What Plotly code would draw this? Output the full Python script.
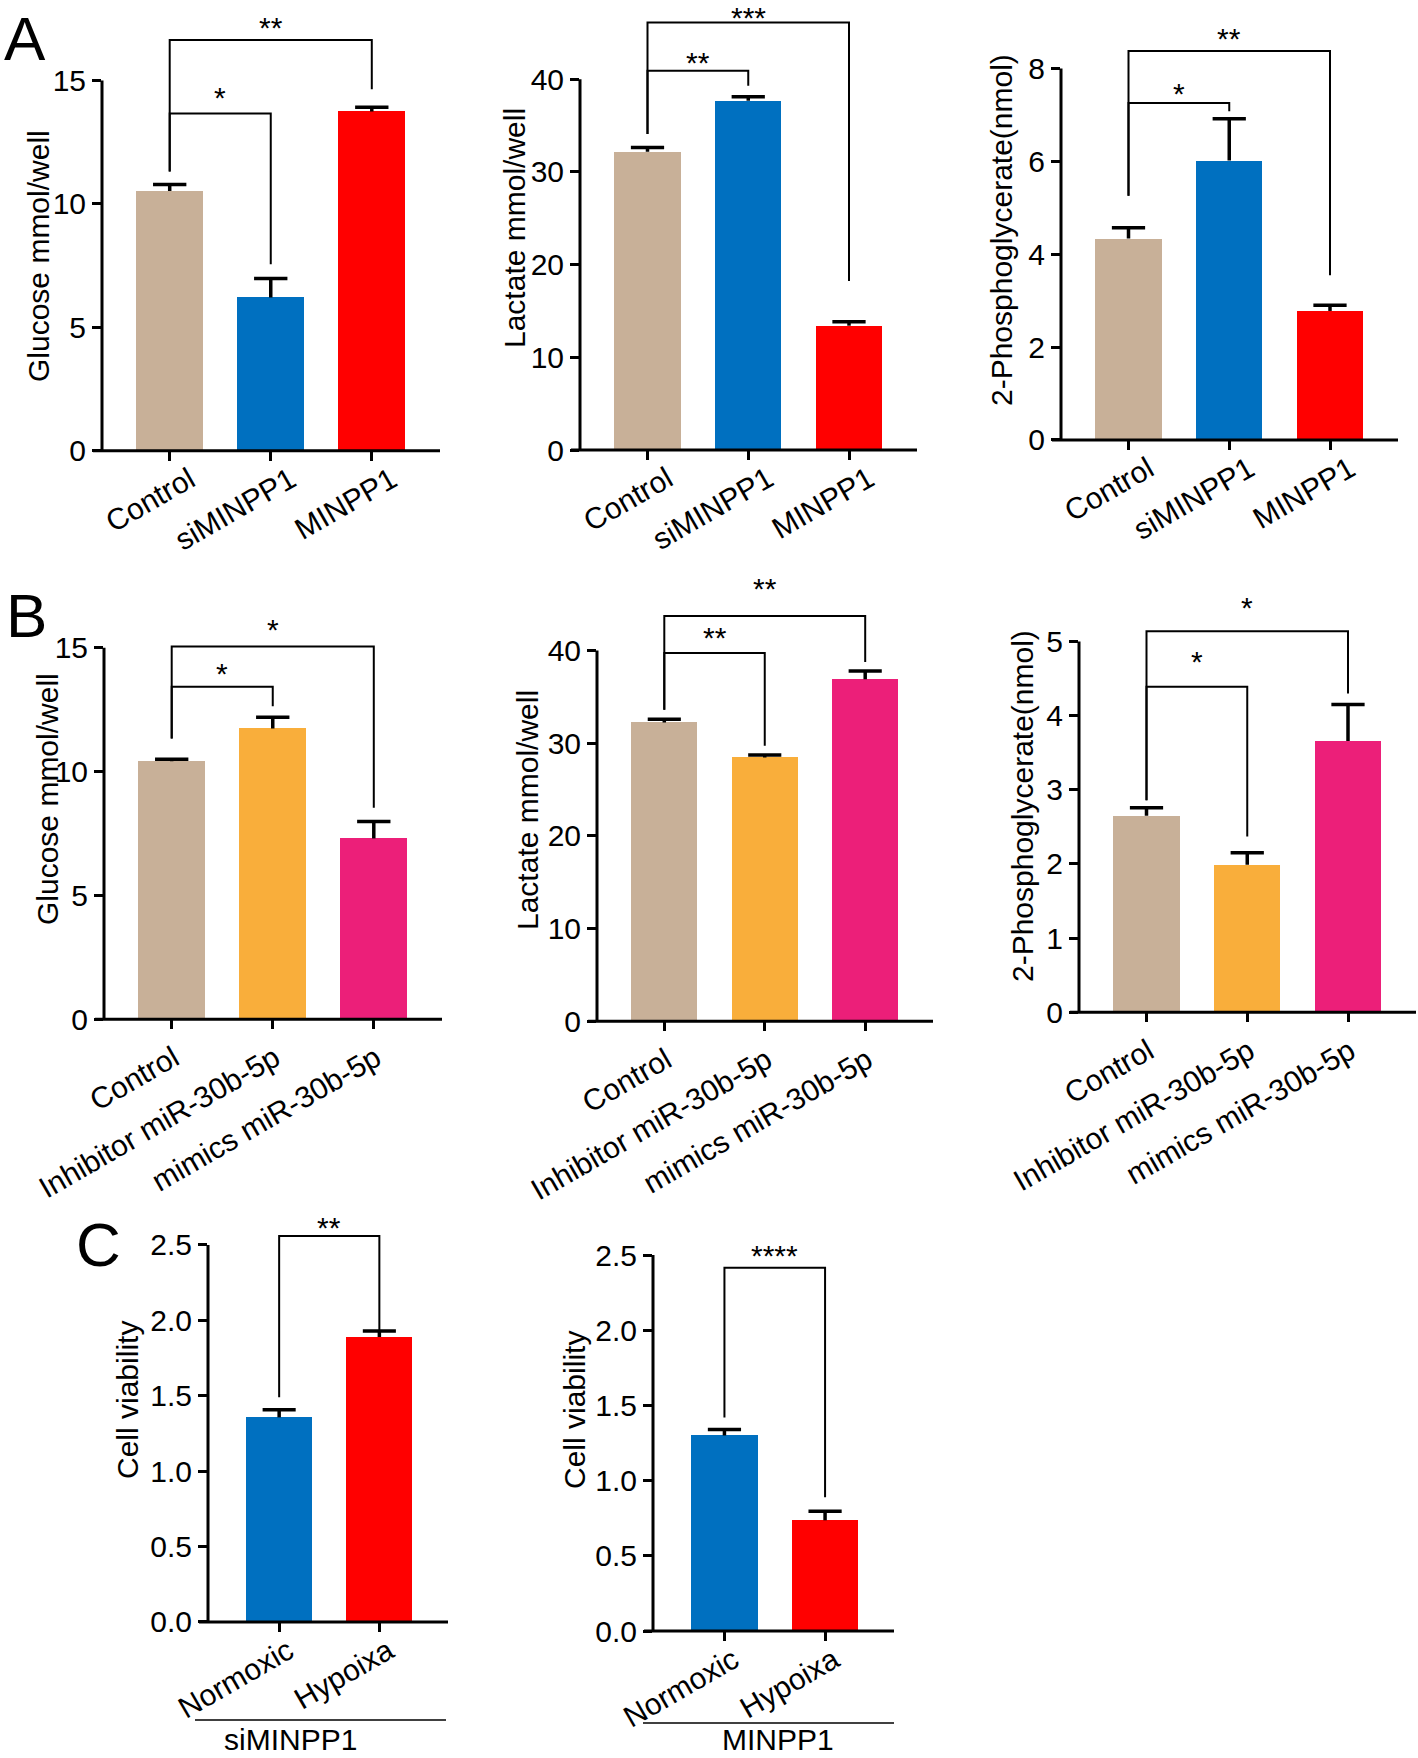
import plotly.graph_objects as go

W, H = 1418, 1758
FONT = "Liberation Sans, Arial, Helvetica, sans-serif"

TAN = "#C8B098"
BLUE = "#0070C0"
RED = "#FF0000"
ORANGE = "#F9AE3B"
PINK = "#EC1F79"

# ---------------- data ----------------
groups_A = ["Control", "siMINPP1", "MINPP1"]
groups_B = ["Control", "Inhibitor miR-30b-5p", "mimics miR-30b-5p"]
groups_C = ["Normoxic", "Hypoixa"]

glucose_A = [10.52, 6.21, 13.74]
glucose_A_err = [0.26, 0.77, 0.17]
lactate_A = [32.18, 37.69, 13.41]
lactate_A_err = [0.46, 0.42, 0.42]
pg_A = [4.34, 6.02, 2.78]
pg_A_err = [0.23, 0.90, 0.12]

glucose_B = [10.42, 11.74, 7.30]
glucose_B_err = [0.08, 0.46, 0.68]
lactate_B = [32.25, 28.46, 36.92]
lactate_B_err = [0.35, 0.26, 0.88]
pg_B = [2.65, 1.99, 3.66]
pg_B_err = [0.11, 0.16, 0.49]

viability_C1 = [1.357, 1.89]
viability_C1_err = [0.05, 0.04]
viability_C2 = [1.30, 0.736]
viability_C2_err = [0.04, 0.06]

# significance brackets: (i, j, bracket y, left end y, right end y, label, label y)
sig_glucose_A = [(0, 2, 16.64, 11.31, 14.64, "**", 17.32), (0, 1, 13.66, 11.31, 7.55, "*", 14.47)]
sig_lactate_A = [(0, 2, 46.13, 34.10, 18.23, "***", 47.1), (0, 1, 40.92, 34.10, 39.31, "**", 42.2)]
sig_pg_A = [(0, 2, 8.38, 5.26, 3.55, "**", 8.73), (0, 1, 7.26, 5.26, 7.08, "*", 7.55)]
sig_glucose_B = [(0, 2, 15.05, 11.34, 8.54, "*", 15.91), (0, 1, 13.43, 11.34, 12.64, "*", 14.13)]
sig_lactate_B = [(0, 2, 43.74, 33.61, 38.77, "**", 47.14), (0, 1, 39.74, 33.61, 29.74, "**", 41.85)]
sig_pg_B = [(0, 2, 5.14, 2.86, 4.30, "*", 5.51), (0, 1, 4.39, 2.86, 2.37, "*", 4.78)]
sig_C1 = [(0, 1, 2.56, 1.49, 1.935, "**", 2.64)]
sig_C2 = [(0, 1, 2.416, 1.42, 0.89, "****", 2.52)]

ticks_gluc = [0, 5, 10, 15]
ticks_lac = [0, 10, 20, 30, 40]
ticks_pgA = [0, 2, 4, 6, 8]
ticks_pgB = [0, 1, 2, 3, 4, 5]
ticks_via = [0, 0.5, 1.0, 1.5, 2.0, 2.5]

colors_A = [TAN, BLUE, RED]
colors_B = [TAN, ORANGE, PINK]
colors_C = [BLUE, RED]

fig = go.Figure()
annotations = []
shapes = []
layout_axes = {}

CAP = 0.165


def add_panel(idx, cats, vals, errs, colors, sig, geom, tickvals,
              title, title_xy, lab_shift=(0, 0), tickfmt=None):
    xa = "x" if idx == 1 else f"x{idx}"
    ya = "y" if idx == 1 else f"y{idx}"
    L, R, Y0, Ytk, a, b = geom
    tmax = tickvals[-1]
    n = len(cats)
    s = (Y0 - Ytk) / tmax
    # range top: room for brackets and star labels, but stay inside the page
    ytop = min(max([t[6] for t in sig] + [tmax]) + 22.0 / s, (Y0 - 1) / s)
    top_px = Y0 - ytop * s
    xdom = [L / W, R / W]
    ydom = [1 - Y0 / H, min(1.0, 1 - top_px / H)]
    xs = list(range(n))

    fig.add_trace(go.Bar(x=xs, y=vals, width=0.66,
                         marker=dict(color=colors, line=dict(width=0)),
                         xaxis=xa, yaxis=ya, showlegend=False, hoverinfo="skip"))
    ex, ey = [], []
    for i, (v, e) in enumerate(zip(vals, errs)):
        ex += [i, i, None, i - CAP, i + CAP, None]
        ey += [v, v + e, None, v + e, v + e, None]
    fig.add_trace(go.Scatter(x=ex, y=ey, mode="lines",
                             line=dict(color="black", width=3.5),
                             xaxis=xa, yaxis=ya, showlegend=False, hoverinfo="skip"))
    bx, by = [], []
    for (i, j, yb, yl, yr, lab, ys) in sig:
        bx += [i, i, j, j, None]
        by += [yl, yb, yb, yr, None]
        annotations.append(dict(x=(i + j) / 2, y=ys, xref=xa, yref=ya, text=lab,
                                showarrow=False, yshift=-4,
                                font=dict(family=FONT, size=30, color="black")))
    fig.add_trace(go.Scatter(x=bx, y=by, mode="lines",
                             line=dict(color="black", width=2),
                             xaxis=xa, yaxis=ya, showlegend=False, hoverinfo="skip"))

    xkey = "xaxis" if idx == 1 else f"xaxis{idx}"
    ykey = "yaxis" if idx == 1 else f"yaxis{idx}"
    layout_axes[xkey] = dict(domain=xdom, anchor=ya, range=[-a, n - 1 + b],
                             tickvals=xs, ticktext=cats, tickangle=-30,
                             ticks="outside", ticklen=9, tickwidth=3, tickcolor="black",
                             ticklabelshift=lab_shift[0], ticklabelstandoff=lab_shift[1],
                             showline=False, showgrid=False, zeroline=False,
                             automargin=False,
                             tickfont=dict(family=FONT, size=30, color="black"))
    ykw = dict(domain=ydom, anchor=xa, range=[0, ytop], tickvals=tickvals,
               ticks="outside", ticklen=9, tickwidth=3, tickcolor="black",
               showline=False, showgrid=False, zeroline=False, automargin=False,
               tickfont=dict(family=FONT, size=30, color="black"))
    if tickfmt:
        ykw["tickformat"] = tickfmt
    layout_axes[ykey] = ykw

    # spines
    shapes.append(dict(type="line", xref="paper", yref="paper",
                       x0=L / W, x1=L / W, y0=1 - Y0 / H, y1=1 - Ytk / H,
                       line=dict(color="black", width=3)))
    shapes.append(dict(type="line", xref="paper", yref="paper",
                       x0=(L - 9) / W, x1=R / W, y0=1 - Y0 / H, y1=1 - Y0 / H,
                       line=dict(color="black", width=3)))
    annotations.append(dict(x=title_xy[0] / W, y=1 - title_xy[1] / H, xref="paper", yref="paper",
                            text=title, showarrow=False, textangle=-90,
                            xanchor="center", yanchor="middle",
                            font=dict(family=FONT, size=30, color="black")))


add_panel(1, groups_A, glucose_A, glucose_A_err, colors_A, sig_glucose_A,
          (102, 440, 450.7, 80.4, 0.67, 0.675), ticks_gluc,
          "Glucose mmol/well", (38, 256), lab_shift=(20, -10))
add_panel(2, groups_A, lactate_A, lactate_A_err, colors_A, sig_lactate_A,
          (580, 917, 450.0, 79.3, 0.67, 0.675), ticks_lac,
          "Lactate mmol/well", (515, 228), lab_shift=(20, -10))
add_panel(3, groups_A, pg_A, pg_A_err, colors_A, sig_pg_A,
          (1061, 1398, 440.0, 68.6, 0.67, 0.675), ticks_pgA,
          "2-Phosphoglycerate(nmol)", (1002, 230), lab_shift=(20, -10))
add_panel(4, groups_B, glucose_B, glucose_B_err, colors_B, sig_glucose_B,
          (104, 442, 1019.2, 647.8, 0.67, 0.675), ticks_gluc,
          "Glucose mmol/well", (47, 799), lab_shift=(2, 0))
add_panel(5, groups_B, lactate_B, lactate_B_err, colors_B, sig_lactate_B,
          (597, 933, 1021.2, 650.6, 0.67, 0.675), ticks_lac,
          "Lactate mmol/well", (527, 810), lab_shift=(2, 0))
add_panel(6, groups_B, pg_B, pg_B_err, colors_B, sig_pg_B,
          (1079, 1416, 1012.2, 641.6, 0.67, 0.675), ticks_pgB,
          "2-Phosphoglycerate(nmol)", (1022, 806), lab_shift=(2, 0))
add_panel(7, groups_C, viability_C1, viability_C1_err, colors_C, sig_C1,
          (208, 448, 1622.0, 1245.0, 0.71, 0.685), ticks_via,
          "Cell viability", (127, 1400), lab_shift=(9, -10), tickfmt=".1f")
add_panel(8, groups_C, viability_C2, viability_C2_err, colors_C, sig_C2,
          (653, 894, 1631.0, 1255.0, 0.71, 0.685), ticks_via,
          "Cell viability", (574, 1410), lab_shift=(9, -10), tickfmt=".1f")

# group lines & labels under panel C
for (x0, x1, yl, txt, tx) in [(195, 446, 1720, "siMINPP1", 290), (643, 894, 1723, "MINPP1", 778)]:
    shapes.append(dict(type="line", xref="paper", yref="paper",
                       x0=x0 / W, x1=x1 / W, y0=1 - yl / H, y1=1 - yl / H,
                       line=dict(color="black", width=1.5)))
    annotations.append(dict(x=tx / W, y=1 - 1739 / H, xref="paper", yref="paper",
                            text=txt, showarrow=False, xanchor="center", yanchor="middle",
                            font=dict(family=FONT, size=30, color="black")))

# panel letters
for (lab, cx, cy) in [("A", 25, 38), ("B", 26, 615), ("C", 98, 1244)]:
    annotations.append(dict(x=cx / W, y=1 - cy / H, xref="paper", yref="paper",
                            text=lab, showarrow=False, xanchor="center", yanchor="middle",
                            font=dict(family=FONT, size=62, color="black")))

fig.update_layout(width=W, height=H, margin=dict(l=0, r=0, t=0, b=0, autoexpand=False),
                  paper_bgcolor="white", plot_bgcolor="rgba(0,0,0,0)",
                  showlegend=False, annotations=annotations, shapes=shapes,
                  bargap=0, **layout_axes)

fig.write_html("out.html", config={"displayModeBar": False},
               post_script="document.body.style.margin='0px';")
